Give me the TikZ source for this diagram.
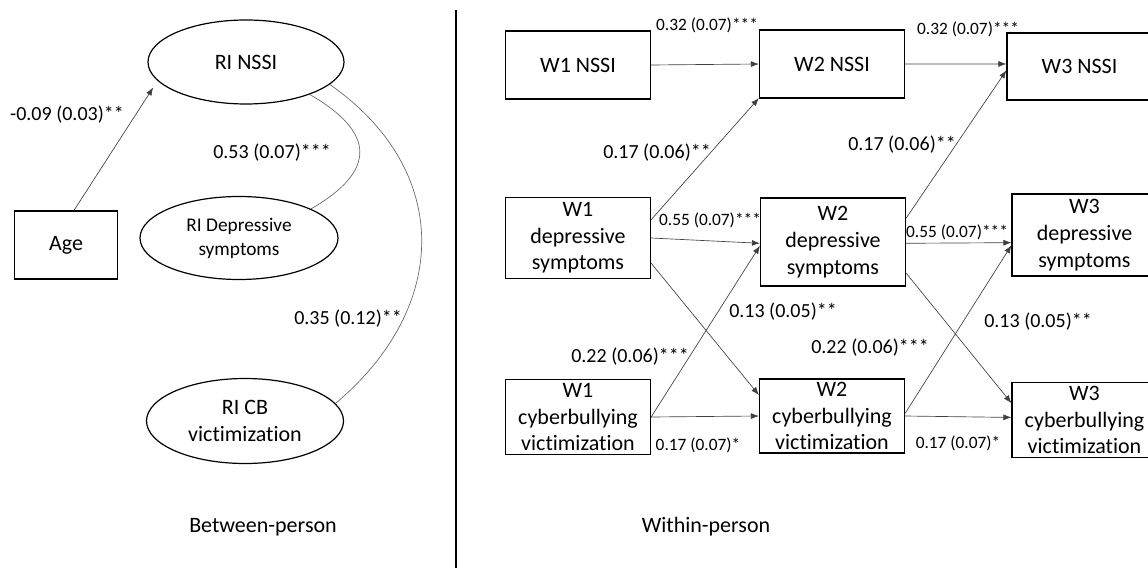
\documentclass[tikz,border=0pt]{standalone}
\usepackage{fontspec}
\setmainfont{Carlito}[Ligatures=NoCommon]
\usetikzlibrary{shapes.geometric,arrows.meta,calc,positioning}

\begin{document}
\begin{tikzpicture}[x=0.75pt,y=0.75pt,
   box/.style={draw,line width=0.9pt,minimum width=108.75pt,inner sep=0pt,align=center,font=\fontsize{16.5}{20}\selectfont},
   latent/.style={draw,ellipse,line width=0.9pt,inner sep=0pt,align=center},
   regr/.style={draw=black!75,line width=0.5pt,-{Latex[length=6pt,width=4.5pt]}},
   covar/.style={draw=black!60,line width=0.5pt},
   est/.style={font=\fontsize{15}{18}\selectfont},
   estsmall/.style={font=\fontsize{13}{16}\selectfont},
   panel/.style={font=\fontsize{16.5}{20}\selectfont}]
   \useasboundingbox (0,0) rectangle (1148,568);

   % between-person part
   \node[latent,minimum width=147pt,minimum height=63pt,font=\fontsize{16.5}{20}\selectfont] (rinssi) at (246,506) {RI NSSI};
   \node[latent,minimum width=148.5pt,minimum height=62.25pt,font=\fontsize{14.5}{18}\selectfont] (ridep) at (239,330) {RI Depressive\\symptoms};
   \node[latent,minimum width=147.75pt,minimum height=63.75pt,font=\fontsize{16.5}{20}\selectfont] (ricb) at (245,147) {RI CB\\victimization};
   \node[box,minimum width=77.25pt,minimum height=51pt] (age) at (66,323) {Age};

   \draw[regr,shorten >=6pt] (age.77) -- (rinssi.192);
   \draw[covar] (rinssi.-27) to[out=-30,in=30,looseness=1.7] (ridep.22);
   \draw[covar] (rinssi.-15) to[out=-35,in=40,looseness=1.2] (ricb.11);

   \node[est] (lage) at (67,453) {-0.09 (0.03)**};
   \node[est] (ldep) at (272,415) {0.53 (0.07)***};
   \node[est] (lcb) at (348,249) {0.35 (0.12)**};
   \node[panel] (between) at (263,41) {Between-person};

   \coordinate (divtop) at (456,558);
   \coordinate (divbot) at (456,0);
   \draw[line width=0.8pt] (divtop) -- (divbot);

   % within-person part
   \foreach \pos/\name/\disp/\boxh in {(578,503)/w1n/W1 NSSI/51, (832,504)/w2n/W2 NSSI/51, (1079.5,501.5)/w3n/W3 NSSI/50.25,
      (578,330)/w1d/W1\\depressive\\symptoms/60.75, (833,326)/w2d/W2\\depressive\\symptoms/66, (1084.5,333)/w3d/W3\\depressive\\symptoms/61.5,
      (578,151)/w1c/W1\\cyberbullying\\victimization/56.25, (832,152)/w2c/W2\\cyberbullying\\victimization/55.5, (1084.5,148)/w3c/W3\\cyberbullying\\victimization/56.25}
   \node[box,minimum height=\boxh pt] (\name) at \pos {\disp};

   \foreach \source/\dest in {w1n.east/w2n.west, w2n.east/w3n.178, w1d.14/w2n.205, w2d.18/w3n.183,
      w1d.east/w2d.181, w2d.-1/w3d.186, w1d.-19/w2c.164, w2d.-23/w3c.167,
      w1c.east/w2d.183, w2c.2/w3d.188, w1c.east/w2c.west, w2c.east/w3c.178}
   \draw[regr] (\source) -- (\dest);

   \node[estsmall] (l1) at (707,543) {0.32 (0.07)***};
   \node[estsmall] (l2) at (968,539) {0.32 (0.07)***};
   \node[est] (l3) at (657,415) {0.17 (0.06)**};
   \node[est] (l4) at (902,423) {0.17 (0.06)**};
   \node[estsmall] (l5) at (710,348) {0.55 (0.07)***};
   \node[estsmall] (l6) at (957,336) {0.55 (0.07)***};
   \node[est] (l7) at (783,256) {0.13 (0.05)**};
   \node[est] (l8) at (1038,246) {0.13 (0.05)**};
   \node[est] (l9) at (630,211) {0.22 (0.06)***};
   \node[est] (l10) at (870,220) {0.22 (0.06)***};
   \node[estsmall] (l11) at (698,123) {0.17 (0.07)*};
   \node[estsmall] (l12) at (958,125) {0.17 (0.07)*};
   \node[panel] (within) at (706,41) {Within-person};
\end{tikzpicture}
\end{document}
